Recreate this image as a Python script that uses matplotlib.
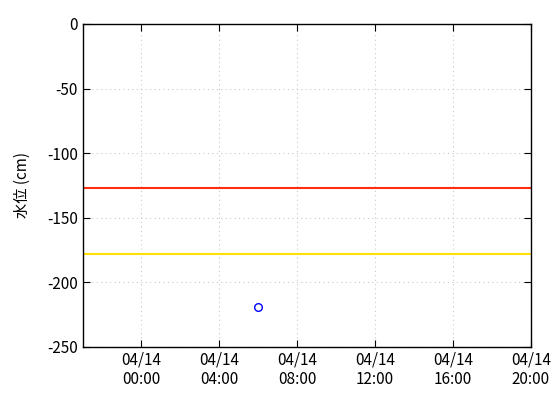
import matplotlib
matplotlib.use('Agg')
import matplotlib.pyplot as plt

plt.rcParams['font.family'] = ['Noto Sans CJK JP', 'DejaVu Sans']
plt.rcParams['axes.unicode_minus'] = False

# hours relative to 04/14 00:00
tick_hours = [0, 4, 8, 12, 16, 20]
tick_labels = ['04/14\n00:00', '04/14\n04:00', '04/14\n08:00', '04/14\n12:00', '04/14\n16:00', '04/14\n20:00']
obs_hours = [6.0]
obs_level = [-219]
red_level = -127
yellow_level = -178

fig = plt.figure(figsize=(5.6, 4.2), dpi=100)
ax = fig.add_axes([0.148, 0.174, 0.800, 0.769])

ax.axhline(red_level, color='#ff3010', linewidth=1.5)
ax.axhline(yellow_level, color='#ffe000', linewidth=1.5)
ax.plot(obs_hours, obs_level, 'o', markerfacecolor='none', markeredgecolor='blue', markersize=5.5, markeredgewidth=1)

ax.set_xlim(-3, 20)
ax.set_ylim(-250, 0)
ax.set_xticks(tick_hours)
ax.set_xticklabels(tick_labels)
ax.set_yticks(range(-250, 1, 50))
ax.set_ylabel('水位 (cm)', fontsize=11, labelpad=12)
ax.grid(True, linestyle=(0, (1, 3)), color='#c8c8c8', linewidth=0.8)
ax.tick_params(direction='in', labelsize=11, top=True, right=True, length=5)
for s in ax.spines.values():
    s.set_linewidth(1)

fig.savefig('out.png', dpi=100)
